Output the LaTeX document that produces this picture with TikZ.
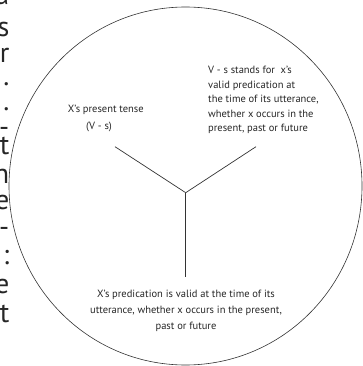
\documentclass[tikz,border=0pt]{standalone}
\usepackage{fontspec}
\setmainfont{PT Sans}
\tikzset{
  label text/.style={font=\fontsize{10.5}{14.6}\selectfont, inner sep=0pt, text=black!85},
  margin text/.style={font=\fontsize{28}{28}\selectfont, inner sep=0pt, text height=0.5em, text depth=0pt, anchor=base east, text=black!85},
  arm/.style={draw=black!80, line width=0.7pt},
}
\begin{document}
\begin{tikzpicture}[x=1pt, y=-1pt]
\useasboundingbox (0,0) rectangle (362,366);
% cut-off letters of the page text
\foreach \ch/\yb [count=\i] in {a/5,s/37,r/63,./86,./111,-/136,t/154,n/183,e/209,-/236,:/264,e/293,t/322}
  \node[margin text] (margin-\i) at (9.5,\yb) {\ch};
\draw[draw=black!80, line width=0.6pt] (185.5,186) ellipse [x radius=176.5, y radius=179];
\coordinate (Y) at (185.7,192.7);
\coordinate (A_left) at (115,146.7);
\coordinate (A_right) at (256,146.7);
\coordinate (A_down) at (185.7,276.7);
\draw[arm] (A_left) -- (Y);
\draw[arm] (A_right) -- (Y);
\draw[arm] (A_down) -- (Y);
\node[label text] (T_tense) at (105.8,110) {X's present tense};
\node[label text] (T_form) at (99,127) {(V - s)};
\node[label text, anchor=west, align=left] (T_stands) at (208,100) {V - s stands for\ \ x's\\valid predication at\\the time of its utterance,\\whether x occurs in the\\present, past or future};
\node[label text, align=center, font=\fontsize{10.5}{16}\selectfont] (T_valid) at (186,311) {X's predication is valid at the time of its\\utterance, whether x occurs in the present,\\past or future};
\end{tikzpicture}
\end{document}
